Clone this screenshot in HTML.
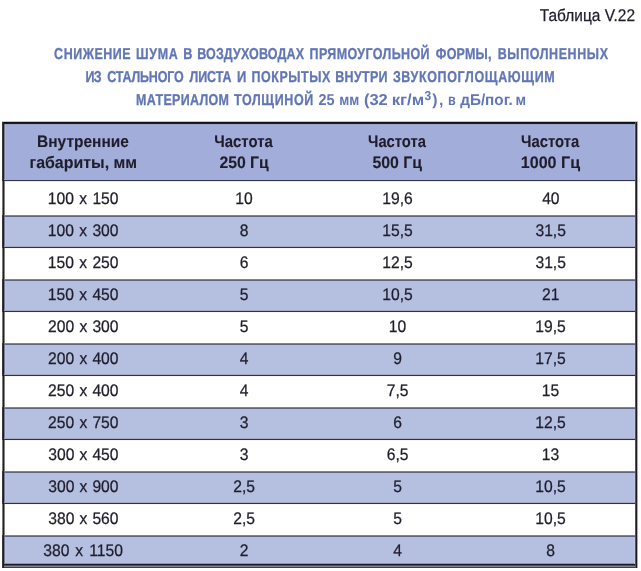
<!DOCTYPE html><html lang="ru"><head><meta charset="utf-8"><title>Таблица V.22</title><style>
html,body{margin:0;padding:0;background:#fff;}
body{width:641px;height:571px;position:relative;overflow:hidden;font-family:"Liberation Sans",sans-serif;}
p,h1,table,thead,tbody,tr,th,td{display:block;margin:0;padding:0;border:0;height:0;font:inherit;}
.t{position:absolute;left:0;top:0;white-space:nowrap;text-rendering:geometricPrecision;line-height:1;transform-origin:0 0;margin:0;padding:0;}
.r{position:absolute;}
</style></head><body>
<div aria-hidden="true">
<div class="r" style="left:4px;top:124px;width:631px;height:56px;background:#a2aed9"></div>
<div class="r" style="left:634px;top:125px;width:1px;height:55px;background:#b3badd"></div>
<div class="r" style="left:4px;top:217px;width:631px;height:30px;background:#b5c0e1"></div>
<div class="r" style="left:634px;top:217px;width:1px;height:29px;background:#bfc5e2"></div>
<div class="r" style="left:4px;top:281px;width:631px;height:30px;background:#b5c0e1"></div>
<div class="r" style="left:634px;top:281px;width:1px;height:29px;background:#bfc5e2"></div>
<div class="r" style="left:4px;top:345px;width:631px;height:30px;background:#b5c0e1"></div>
<div class="r" style="left:634px;top:345px;width:1px;height:29px;background:#bfc5e2"></div>
<div class="r" style="left:4px;top:409px;width:631px;height:30px;background:#b5c0e1"></div>
<div class="r" style="left:634px;top:409px;width:1px;height:29px;background:#bfc5e2"></div>
<div class="r" style="left:4px;top:473px;width:631px;height:30px;background:#b5c0e1"></div>
<div class="r" style="left:634px;top:473px;width:1px;height:29px;background:#bfc5e2"></div>
<div class="r" style="left:4px;top:537px;width:631px;height:27px;background:#b5c0e1"></div>
<div class="r" style="left:634px;top:537px;width:1px;height:26px;background:#bfc5e2"></div>
<div class="r" style="left:4px;top:124px;width:1px;height:440px;background:#7a7c96"></div>
<div class="r" style="left:5px;top:125px;width:1px;height:55px;background:#aab4dc"></div>
<div class="r" style="left:5px;top:217px;width:1px;height:29px;background:#bec4e2"></div>
<div class="r" style="left:5px;top:281px;width:1px;height:29px;background:#bec4e2"></div>
<div class="r" style="left:5px;top:345px;width:1px;height:29px;background:#bec4e2"></div>
<div class="r" style="left:5px;top:409px;width:1px;height:29px;background:#bec4e2"></div>
<div class="r" style="left:5px;top:473px;width:1px;height:29px;background:#bec4e2"></div>
<div class="r" style="left:5px;top:537px;width:1px;height:26px;background:#bec4e2"></div>
<div class="r" style="left:4px;top:215px;width:631px;height:1px;background:#828289"></div>
<div class="r" style="left:4px;top:216px;width:631px;height:1px;background:#626680"></div>
<div class="r" style="left:4px;top:279px;width:631px;height:1px;background:#828289"></div>
<div class="r" style="left:4px;top:280px;width:631px;height:1px;background:#626680"></div>
<div class="r" style="left:4px;top:343px;width:631px;height:1px;background:#828289"></div>
<div class="r" style="left:4px;top:344px;width:631px;height:1px;background:#626680"></div>
<div class="r" style="left:4px;top:407px;width:631px;height:1px;background:#828289"></div>
<div class="r" style="left:4px;top:408px;width:631px;height:1px;background:#626680"></div>
<div class="r" style="left:4px;top:471px;width:631px;height:1px;background:#828289"></div>
<div class="r" style="left:4px;top:472px;width:631px;height:1px;background:#626680"></div>
<div class="r" style="left:4px;top:535px;width:631px;height:1px;background:#828289"></div>
<div class="r" style="left:4px;top:536px;width:631px;height:1px;background:#626680"></div>
<div class="r" style="left:4px;top:179px;width:631px;height:1px;background:#a3add4"></div>
<div class="r" style="left:4px;top:180px;width:631px;height:1px;background:#33364a"></div>
<div class="r" style="left:4px;top:181px;width:631px;height:1px;background:#e8e8ea"></div>
<div class="r" style="left:4px;top:246px;width:631px;height:1px;background:#a5a9c6"></div>
<div class="r" style="left:4px;top:247px;width:631px;height:1px;background:#2f3042"></div>
<div class="r" style="left:4px;top:248px;width:631px;height:1px;background:#f6f6f6"></div>
<div class="r" style="left:4px;top:310px;width:631px;height:1px;background:#a5a9c6"></div>
<div class="r" style="left:4px;top:311px;width:631px;height:1px;background:#2f3042"></div>
<div class="r" style="left:4px;top:312px;width:631px;height:1px;background:#f6f6f6"></div>
<div class="r" style="left:4px;top:374px;width:631px;height:1px;background:#a5a9c6"></div>
<div class="r" style="left:4px;top:375px;width:631px;height:1px;background:#2f3042"></div>
<div class="r" style="left:4px;top:376px;width:631px;height:1px;background:#f6f6f6"></div>
<div class="r" style="left:4px;top:438px;width:631px;height:1px;background:#a5a9c6"></div>
<div class="r" style="left:4px;top:439px;width:631px;height:1px;background:#2f3042"></div>
<div class="r" style="left:4px;top:440px;width:631px;height:1px;background:#f6f6f6"></div>
<div class="r" style="left:4px;top:502px;width:631px;height:1px;background:#a5a9c6"></div>
<div class="r" style="left:4px;top:503px;width:631px;height:1px;background:#2f3042"></div>
<div class="r" style="left:4px;top:504px;width:631px;height:1px;background:#f6f6f6"></div>
<div class="r" style="left:2px;top:121px;width:636px;height:1px;background:#c8c6c6"></div>
<div class="r" style="left:2px;top:122px;width:636px;height:1px;background:#100f14"></div>
<div class="r" style="left:2px;top:123px;width:636px;height:1px;background:#1b1c2a"></div>
<div class="r" style="left:5px;top:124px;width:629px;height:1px;background:#97a2cb"></div>
<div class="r" style="left:5px;top:563px;width:629px;height:1px;background:#8e92b0"></div>
<div class="r" style="left:2px;top:564px;width:636px;height:1px;background:#1c1b26"></div>
<div class="r" style="left:2px;top:565px;width:636px;height:1px;background:#4e5064"></div>
<div class="r" style="left:2px;top:566px;width:636px;height:1px;background:#80839a"></div>
<div class="r" style="left:2px;top:567px;width:636px;height:1px;background:#3e4050"></div>
<div class="r" style="left:2px;top:122px;width:1px;height:446px;background:#3a3838"></div>
<div class="r" style="left:3px;top:122px;width:1px;height:446px;background:#201f25"></div>
<div class="r" style="left:2px;top:181px;width:1px;height:34px;background:#7a7878"></div>
<div class="r" style="left:4px;top:181px;width:1px;height:34px;background:#868686"></div>
<div class="r" style="left:2px;top:248px;width:1px;height:31px;background:#7a7878"></div>
<div class="r" style="left:4px;top:248px;width:1px;height:31px;background:#868686"></div>
<div class="r" style="left:2px;top:312px;width:1px;height:31px;background:#7a7878"></div>
<div class="r" style="left:4px;top:312px;width:1px;height:31px;background:#868686"></div>
<div class="r" style="left:2px;top:376px;width:1px;height:31px;background:#7a7878"></div>
<div class="r" style="left:4px;top:376px;width:1px;height:31px;background:#868686"></div>
<div class="r" style="left:2px;top:440px;width:1px;height:31px;background:#7a7878"></div>
<div class="r" style="left:4px;top:440px;width:1px;height:31px;background:#868686"></div>
<div class="r" style="left:2px;top:504px;width:1px;height:31px;background:#7a7878"></div>
<div class="r" style="left:4px;top:504px;width:1px;height:31px;background:#868686"></div>
<div class="r" style="left:635px;top:122px;width:1px;height:446px;background:#505266"></div>
<div class="r" style="left:636px;top:122px;width:1px;height:446px;background:#1c1b20"></div>
<div class="r" style="left:637px;top:122px;width:1px;height:446px;background:#afadaa"></div>
</div>
<p><span class="t" style="font-size:17.0px;font-weight:normal;color:#1f1c2b;-webkit-text-stroke:0.25px #1f1c2b;transform:translate(539.77px,7.00px) scaleX(0.9089)">Таблица V.22</span></p>
<h1>
<span class="t" style="font-size:15.8px;font-weight:bold;color:#6076b5;-webkit-text-stroke:0.3px #6076b5;letter-spacing:0.65px;transform:translate(54.10px,47.00px) scaleX(0.7900)">СНИЖЕНИЕ</span> <span class="t" style="font-size:15.8px;font-weight:bold;color:#6076b5;-webkit-text-stroke:0.3px #6076b5;letter-spacing:0.84px;transform:translate(136.01px,47.00px) scaleX(0.7900)">ШУМА</span> <span class="t" style="font-size:15.8px;font-weight:bold;color:#6076b5;-webkit-text-stroke:0.3px #6076b5;transform:translate(183.20px,47.00px) scaleX(0.8000)">В</span> <span class="t" style="font-size:15.8px;font-weight:bold;color:#6076b5;-webkit-text-stroke:0.3px #6076b5;letter-spacing:0.18px;transform:translate(197.21px,47.00px) scaleX(0.7900)">ВОЗДУХОВОДАХ</span> <span class="t" style="font-size:15.8px;font-weight:bold;color:#6076b5;-webkit-text-stroke:0.3px #6076b5;letter-spacing:0.49px;transform:translate(309.61px,47.00px) scaleX(0.7900)">ПРЯМОУГОЛЬНОЙ</span> <span class="t" style="font-size:15.8px;font-weight:bold;color:#6076b5;-webkit-text-stroke:0.3px #6076b5;letter-spacing:0.27px;transform:translate(435.81px,47.00px) scaleX(0.7900)">ФОРМЫ,</span> <span class="t" style="font-size:15.8px;font-weight:bold;color:#6076b5;-webkit-text-stroke:0.3px #6076b5;letter-spacing:0.76px;transform:translate(497.71px,47.00px) scaleX(0.7900)">ВЫПОЛНЕННЫХ</span>
<span class="t" style="font-size:15.8px;font-weight:bold;color:#6076b5;-webkit-text-stroke:0.3px #6076b5;letter-spacing:-0.76px;transform:translate(85.41px,70.00px) scaleX(0.7900)">ИЗ</span> <span class="t" style="font-size:15.8px;font-weight:bold;color:#6076b5;-webkit-text-stroke:0.3px #6076b5;letter-spacing:-0.23px;transform:translate(107.31px,70.00px) scaleX(0.7900)">СТАЛЬНОГО</span> <span class="t" style="font-size:15.8px;font-weight:bold;color:#6076b5;-webkit-text-stroke:0.3px #6076b5;letter-spacing:-0.02px;transform:translate(189.40px,70.00px) scaleX(0.7900)">ЛИСТА</span> <span class="t" style="font-size:15.8px;font-weight:bold;color:#6076b5;-webkit-text-stroke:0.3px #6076b5;transform:translate(236.88px,70.00px) scaleX(0.8211)">И</span> <span class="t" style="font-size:15.8px;font-weight:bold;color:#6076b5;-webkit-text-stroke:0.3px #6076b5;letter-spacing:0.69px;transform:translate(251.51px,70.00px) scaleX(0.7900)">ПОКРЫТЫХ</span> <span class="t" style="font-size:15.8px;font-weight:bold;color:#6076b5;-webkit-text-stroke:0.3px #6076b5;letter-spacing:0.41px;transform:translate(335.21px,70.00px) scaleX(0.7900)">ВНУТРИ</span> <span class="t" style="font-size:15.8px;font-weight:bold;color:#6076b5;-webkit-text-stroke:0.3px #6076b5;letter-spacing:0.83px;transform:translate(392.90px,70.00px) scaleX(0.7900)">ЗВУКОПОГЛОЩАЮЩИМ</span>
<span class="t" style="font-size:15.8px;font-weight:bold;color:#6076b5;-webkit-text-stroke:0.3px #6076b5;letter-spacing:0.38px;transform:translate(136.11px,93.00px) scaleX(0.7900)">МАТЕРИАЛОМ</span> <span class="t" style="font-size:15.8px;font-weight:bold;color:#6076b5;-webkit-text-stroke:0.3px #6076b5;letter-spacing:0.80px;transform:translate(234.00px,93.00px) scaleX(0.7900)">ТОЛЩИНОЙ</span> <span class="t" style="font-size:15.8px;font-weight:bold;color:#6076b5;transform:translate(318.54px,93.00px) scaleX(0.9134)">25</span> <span class="t" style="font-size:15.8px;font-weight:bold;color:#6076b5;transform:translate(339.34px,93.00px) scaleX(0.8565)">мм</span> <span class="t" style="font-size:15.8px;font-weight:bold;color:#6076b5;transform:translate(363.92px,93.00px) scaleX(1.0465)">(32</span> <span class="t" style="font-size:15.8px;font-weight:bold;color:#6076b5;transform:translate(391.64px,93.00px) scaleX(1.0632)">кг/м</span><sup class="t" style="font-size:13px;font-weight:bold;color:#6076b5;transform:translate(424.47px,89.00px) scaleX(0.9231)">3</sup><span class="t" style="font-size:15.8px;font-weight:bold;color:#6076b5;transform:translate(432.20px,93.00px) scaleX(1.0000)">)</span><span class="t" style="font-size:15.8px;font-weight:bold;color:#6076b5;transform:translate(438.98px,93.00px) scaleX(1.0000)">,</span> <span class="t" style="font-size:15.8px;font-weight:bold;color:#6076b5;transform:translate(448.00px,93.00px) scaleX(0.8000)">в</span> <span class="t" style="font-size:15.8px;font-weight:bold;color:#6076b5;transform:translate(460.20px,93.00px) scaleX(0.9671)">дБ/пог.</span> <span class="t" style="font-size:15.8px;font-weight:bold;color:#6076b5;transform:translate(515.39px,93.00px) scaleX(0.9053)">м</span>
</h1>
<table><thead><tr>
<th><span class="t" style="font-size:16.6px;font-weight:bold;color:#1f1c2b;-webkit-text-stroke:0.1px #1f1c2b;transform:translate(37.07px,134.00px) scaleX(0.9340)">Внутренние</span> <span class="t" style="font-size:16.6px;font-weight:bold;color:#1f1c2b;-webkit-text-stroke:0.1px #1f1c2b;transform:translate(29.54px,155.00px) scaleX(0.9600)">габариты, мм</span></th>
<th><span class="t" style="font-size:16.6px;font-weight:bold;color:#1f1c2b;-webkit-text-stroke:0.1px #1f1c2b;transform:translate(214.23px,134.00px) scaleX(0.8992)">Частота</span> <span class="t" style="font-size:16.6px;font-weight:bold;color:#1f1c2b;-webkit-text-stroke:0.1px #1f1c2b;transform:translate(219.42px,155.00px) scaleX(0.9502)">250 Гц</span></th>
<th><span class="t" style="font-size:16.6px;font-weight:bold;color:#1f1c2b;-webkit-text-stroke:0.1px #1f1c2b;transform:translate(368.03px,134.00px) scaleX(0.8899)">Частота</span> <span class="t" style="font-size:16.6px;font-weight:bold;color:#1f1c2b;-webkit-text-stroke:0.1px #1f1c2b;transform:translate(372.42px,155.00px) scaleX(0.9561)">500 Гц</span></th>
<th><span class="t" style="font-size:16.6px;font-weight:bold;color:#1f1c2b;-webkit-text-stroke:0.1px #1f1c2b;transform:translate(521.03px,134.00px) scaleX(0.8946)">Частота</span> <span class="t" style="font-size:16.6px;font-weight:bold;color:#1f1c2b;-webkit-text-stroke:0.1px #1f1c2b;transform:translate(520.73px,155.00px) scaleX(0.9700)">1000 Гц</span></th>
</tr></thead><tbody>
<tr><td><span class="t" style="font-size:16.7px;font-weight:normal;color:#1f1c2b;-webkit-text-stroke:0.25px #1f1c2b;word-spacing:1.01px;transform:translate(47.86px,191.00px) scaleX(0.9380)">100 x 150</span></td> <td><span class="t" style="font-size:16.7px;font-weight:normal;color:#1f1c2b;-webkit-text-stroke:0.25px #1f1c2b;transform:translate(235.29px,191.00px) scaleX(0.9380)">10</span></td> <td><span class="t" style="font-size:16.7px;font-weight:normal;color:#1f1c2b;-webkit-text-stroke:0.25px #1f1c2b;transform:translate(382.22px,191.00px) scaleX(0.9380)">19,6</span></td> <td><span class="t" style="font-size:16.7px;font-weight:normal;color:#1f1c2b;-webkit-text-stroke:0.25px #1f1c2b;transform:translate(542.14px,191.00px) scaleX(0.9380)">40</span></td></tr>
<tr><td><span class="t" style="font-size:16.7px;font-weight:normal;color:#1f1c2b;-webkit-text-stroke:0.25px #1f1c2b;word-spacing:1.01px;transform:translate(47.86px,223.00px) scaleX(0.9380)">100 x 300</span></td> <td><span class="t" style="font-size:16.7px;font-weight:normal;color:#1f1c2b;-webkit-text-stroke:0.25px #1f1c2b;transform:translate(239.86px,223.00px) scaleX(0.9380)">8</span></td> <td><span class="t" style="font-size:16.7px;font-weight:normal;color:#1f1c2b;-webkit-text-stroke:0.25px #1f1c2b;transform:translate(382.22px,223.00px) scaleX(0.9380)">15,5</span></td> <td><span class="t" style="font-size:16.7px;font-weight:normal;color:#1f1c2b;-webkit-text-stroke:0.25px #1f1c2b;transform:translate(535.46px,223.00px) scaleX(0.9380)">31,5</span></td></tr>
<tr><td><span class="t" style="font-size:16.7px;font-weight:normal;color:#1f1c2b;-webkit-text-stroke:0.25px #1f1c2b;word-spacing:1.01px;transform:translate(47.86px,255.00px) scaleX(0.9380)">150 x 250</span></td> <td><span class="t" style="font-size:16.7px;font-weight:normal;color:#1f1c2b;-webkit-text-stroke:0.25px #1f1c2b;transform:translate(239.74px,255.00px) scaleX(0.9380)">6</span></td> <td><span class="t" style="font-size:16.7px;font-weight:normal;color:#1f1c2b;-webkit-text-stroke:0.25px #1f1c2b;transform:translate(382.22px,255.00px) scaleX(0.9380)">12,5</span></td> <td><span class="t" style="font-size:16.7px;font-weight:normal;color:#1f1c2b;-webkit-text-stroke:0.25px #1f1c2b;transform:translate(535.46px,255.00px) scaleX(0.9380)">31,5</span></td></tr>
<tr><td><span class="t" style="font-size:16.7px;font-weight:normal;color:#1f1c2b;-webkit-text-stroke:0.25px #1f1c2b;word-spacing:1.01px;transform:translate(47.86px,287.00px) scaleX(0.9380)">150 x 450</span></td> <td><span class="t" style="font-size:16.7px;font-weight:normal;color:#1f1c2b;-webkit-text-stroke:0.25px #1f1c2b;transform:translate(239.86px,287.00px) scaleX(0.9380)">5</span></td> <td><span class="t" style="font-size:16.7px;font-weight:normal;color:#1f1c2b;-webkit-text-stroke:0.25px #1f1c2b;transform:translate(382.22px,287.00px) scaleX(0.9380)">10,5</span></td> <td><span class="t" style="font-size:16.7px;font-weight:normal;color:#1f1c2b;-webkit-text-stroke:0.25px #1f1c2b;transform:translate(542.02px,287.00px) scaleX(0.9380)">21</span></td></tr>
<tr><td><span class="t" style="font-size:16.7px;font-weight:normal;color:#1f1c2b;-webkit-text-stroke:0.25px #1f1c2b;word-spacing:0.89px;transform:translate(48.10px,319.00px) scaleX(0.9380)">200 x 300</span></td> <td><span class="t" style="font-size:16.7px;font-weight:normal;color:#1f1c2b;-webkit-text-stroke:0.25px #1f1c2b;transform:translate(239.86px,319.00px) scaleX(0.9380)">5</span></td> <td><span class="t" style="font-size:16.7px;font-weight:normal;color:#1f1c2b;-webkit-text-stroke:0.25px #1f1c2b;transform:translate(388.79px,319.00px) scaleX(0.9380)">10</span></td> <td><span class="t" style="font-size:16.7px;font-weight:normal;color:#1f1c2b;-webkit-text-stroke:0.25px #1f1c2b;transform:translate(535.22px,319.00px) scaleX(0.9380)">19,5</span></td></tr>
<tr><td><span class="t" style="font-size:16.7px;font-weight:normal;color:#1f1c2b;-webkit-text-stroke:0.25px #1f1c2b;word-spacing:0.89px;transform:translate(48.10px,351.00px) scaleX(0.9380)">200 x 400</span></td> <td><span class="t" style="font-size:16.7px;font-weight:normal;color:#1f1c2b;-webkit-text-stroke:0.25px #1f1c2b;transform:translate(239.86px,351.00px) scaleX(0.9380)">4</span></td> <td><span class="t" style="font-size:16.7px;font-weight:normal;color:#1f1c2b;-webkit-text-stroke:0.25px #1f1c2b;transform:translate(393.24px,351.00px) scaleX(0.9380)">9</span></td> <td><span class="t" style="font-size:16.7px;font-weight:normal;color:#1f1c2b;-webkit-text-stroke:0.25px #1f1c2b;transform:translate(535.22px,351.00px) scaleX(0.9380)">17,5</span></td></tr>
<tr><td><span class="t" style="font-size:16.7px;font-weight:normal;color:#1f1c2b;-webkit-text-stroke:0.25px #1f1c2b;word-spacing:0.89px;transform:translate(48.10px,383.00px) scaleX(0.9380)">250 x 400</span></td> <td><span class="t" style="font-size:16.7px;font-weight:normal;color:#1f1c2b;-webkit-text-stroke:0.25px #1f1c2b;transform:translate(239.86px,383.00px) scaleX(0.9380)">4</span></td> <td><span class="t" style="font-size:16.7px;font-weight:normal;color:#1f1c2b;-webkit-text-stroke:0.25px #1f1c2b;transform:translate(386.68px,383.00px) scaleX(0.9380)">7,5</span></td> <td><span class="t" style="font-size:16.7px;font-weight:normal;color:#1f1c2b;-webkit-text-stroke:0.25px #1f1c2b;transform:translate(541.79px,383.00px) scaleX(0.9380)">15</span></td></tr>
<tr><td><span class="t" style="font-size:16.7px;font-weight:normal;color:#1f1c2b;-webkit-text-stroke:0.25px #1f1c2b;word-spacing:0.89px;transform:translate(48.10px,415.00px) scaleX(0.9380)">250 x 750</span></td> <td><span class="t" style="font-size:16.7px;font-weight:normal;color:#1f1c2b;-webkit-text-stroke:0.25px #1f1c2b;transform:translate(239.86px,415.00px) scaleX(0.9380)">3</span></td> <td><span class="t" style="font-size:16.7px;font-weight:normal;color:#1f1c2b;-webkit-text-stroke:0.25px #1f1c2b;transform:translate(393.24px,415.00px) scaleX(0.9380)">6</span></td> <td><span class="t" style="font-size:16.7px;font-weight:normal;color:#1f1c2b;-webkit-text-stroke:0.25px #1f1c2b;transform:translate(535.22px,415.00px) scaleX(0.9380)">12,5</span></td></tr>
<tr><td><span class="t" style="font-size:16.7px;font-weight:normal;color:#1f1c2b;-webkit-text-stroke:0.25px #1f1c2b;word-spacing:0.76px;transform:translate(48.33px,447.00px) scaleX(0.9380)">300 x 450</span></td> <td><span class="t" style="font-size:16.7px;font-weight:normal;color:#1f1c2b;-webkit-text-stroke:0.25px #1f1c2b;transform:translate(239.86px,447.00px) scaleX(0.9380)">3</span></td> <td><span class="t" style="font-size:16.7px;font-weight:normal;color:#1f1c2b;-webkit-text-stroke:0.25px #1f1c2b;transform:translate(386.68px,447.00px) scaleX(0.9380)">6,5</span></td> <td><span class="t" style="font-size:16.7px;font-weight:normal;color:#1f1c2b;-webkit-text-stroke:0.25px #1f1c2b;transform:translate(541.79px,447.00px) scaleX(0.9380)">13</span></td></tr>
<tr><td><span class="t" style="font-size:16.7px;font-weight:normal;color:#1f1c2b;-webkit-text-stroke:0.25px #1f1c2b;word-spacing:0.76px;transform:translate(48.33px,479.00px) scaleX(0.9380)">300 x 900</span></td> <td><span class="t" style="font-size:16.7px;font-weight:normal;color:#1f1c2b;-webkit-text-stroke:0.25px #1f1c2b;transform:translate(233.18px,479.00px) scaleX(0.9380)">2,5</span></td> <td><span class="t" style="font-size:16.7px;font-weight:normal;color:#1f1c2b;-webkit-text-stroke:0.25px #1f1c2b;transform:translate(393.36px,479.00px) scaleX(0.9380)">5</span></td> <td><span class="t" style="font-size:16.7px;font-weight:normal;color:#1f1c2b;-webkit-text-stroke:0.25px #1f1c2b;transform:translate(535.22px,479.00px) scaleX(0.9380)">10,5</span></td></tr>
<tr><td><span class="t" style="font-size:16.7px;font-weight:normal;color:#1f1c2b;-webkit-text-stroke:0.25px #1f1c2b;word-spacing:0.76px;transform:translate(48.33px,511.00px) scaleX(0.9380)">380 x 560</span></td> <td><span class="t" style="font-size:16.7px;font-weight:normal;color:#1f1c2b;-webkit-text-stroke:0.25px #1f1c2b;transform:translate(233.18px,511.00px) scaleX(0.9380)">2,5</span></td> <td><span class="t" style="font-size:16.7px;font-weight:normal;color:#1f1c2b;-webkit-text-stroke:0.25px #1f1c2b;transform:translate(393.36px,511.00px) scaleX(0.9380)">5</span></td> <td><span class="t" style="font-size:16.7px;font-weight:normal;color:#1f1c2b;-webkit-text-stroke:0.25px #1f1c2b;transform:translate(535.22px,511.00px) scaleX(0.9380)">10,5</span></td></tr>
<tr><td><span class="t" style="font-size:16.7px;font-weight:normal;color:#1f1c2b;-webkit-text-stroke:0.25px #1f1c2b;word-spacing:1.77px;transform:translate(43.23px,543.00px) scaleX(0.9380)">380 x 1150</span></td> <td><span class="t" style="font-size:16.7px;font-weight:normal;color:#1f1c2b;-webkit-text-stroke:0.25px #1f1c2b;transform:translate(239.86px,543.00px) scaleX(0.9380)">2</span></td> <td><span class="t" style="font-size:16.7px;font-weight:normal;color:#1f1c2b;-webkit-text-stroke:0.25px #1f1c2b;transform:translate(393.36px,543.00px) scaleX(0.9380)">4</span></td> <td><span class="t" style="font-size:16.7px;font-weight:normal;color:#1f1c2b;-webkit-text-stroke:0.25px #1f1c2b;transform:translate(546.36px,543.00px) scaleX(0.9380)">8</span></td></tr>
</tbody></table>
</body></html>
